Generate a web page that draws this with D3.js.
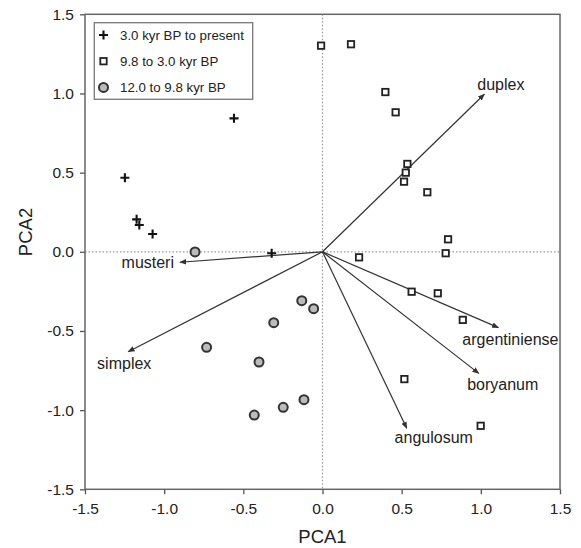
<!DOCTYPE html>
<html lang="en">
<head>
<meta charset="utf-8">
<title>PCA biplot</title>
<script src="https://cdn.jsdelivr.net/npm/d3@7"></script>
<style>
  body { margin: 0; background: #fff; }
  text { font-family: "Liberation Sans", Arial, sans-serif; fill: #222; }
</style>
</head>
<body>
<script>
// samples, by age group: [PCA1, PCA2]
var recent = [[-1.248, 0.468], [-1.174, 0.205], [-1.157, 0.169], [-1.073, 0.112],
              [-0.559, 0.843], [-0.321, -0.009]];
var middle = [[-0.009, 1.302], [0.180, 1.311], [0.397, 1.009], [0.462, 0.881],
              [0.536, 0.555], [0.526, 0.500], [0.515, 0.443], [0.662, 0.376],
              [0.793, 0.079], [0.778, -0.009], [0.231, -0.035], [0.563, -0.252],
              [0.728, -0.262], [0.886, -0.430], [0.517, -0.804], [0.999, -1.099]];
var early = [[-0.805, -0.001], [-0.131, -0.309], [-0.056, -0.359], [-0.308, -0.448],
             [-0.732, -0.603], [-0.401, -0.696], [-0.117, -0.934], [-0.248, -0.982],
             [-0.431, -1.031]];

// variable loadings
var varNames = ["duplex", "argentiniense", "boryanum", "angulosum", "musteri", "simplex"];
var varX = [1.022, 1.111, 0.987, 0.532, -0.900, -1.227];
var varY = [0.995, -0.479, -0.768, -1.115, -0.066, -0.631];

var legendLabels = ["3.0 kyr BP to present", "9.8 to 3.0 kyr BP", "12.0 to 9.8 kyr BP"];
var tickVals = [-1.5, -1.0, -0.5, 0.0, 0.5, 1.0, 1.5];

var W = 581, H = 548;
var pLeft = 85, pRight = 560, pTop = 14.3, pBottom = 489.3;

var x = d3.scaleLinear().domain([-1.5, 1.5]).range([pLeft, pRight]);
var y = d3.scaleLinear().domain([-1.5, 1.5]).range([pBottom, pTop]);

var svg = d3.select("body").append("svg")
    .attr("width", W).attr("height", H);

svg.append("defs").append("marker")
    .attr("id", "head")
    .attr("viewBox", "0 0 10 10")
    .attr("refX", 9).attr("refY", 5)
    .attr("markerWidth", 7).attr("markerHeight", 7)
    .attr("markerUnits", "userSpaceOnUse")
    .attr("orient", "auto")
  .append("path")
    .attr("d", "M0,1 L10,5 L0,9 z")
    .attr("fill", "#333");

// zero reference lines
svg.append("line")
    .attr("x1", x(0)).attr("x2", x(0)).attr("y1", pTop).attr("y2", pBottom)
    .attr("stroke", "#999").attr("stroke-width", 1.2).attr("stroke-dasharray", "1.5,2");
svg.append("line")
    .attr("x1", pLeft).attr("x2", pRight).attr("y1", y(0)).attr("y2", y(0))
    .attr("stroke", "#999").attr("stroke-width", 1.2).attr("stroke-dasharray", "1.5,2");

// axes
var fmt = function(d) { return d.toFixed(1); };
var xAxis = d3.axisBottom(x).tickValues(tickVals).tickFormat(fmt).tickSize(5).tickSizeOuter(0);
var yAxis = d3.axisLeft(y).tickValues(tickVals).tickFormat(fmt).tickSize(5).tickSizeOuter(0);

var gx = svg.append("g").attr("transform", "translate(0," + pBottom + ")").call(xAxis);
var gy = svg.append("g").attr("transform", "translate(" + pLeft + ",0)").call(yAxis);
[gx, gy].forEach(function(g) {
  g.select(".domain").remove();
  g.selectAll("line").attr("stroke", "#555").attr("stroke-width", 1.3);
  g.selectAll("text").attr("font-size", 15.5)
    .attr("font-family", "Liberation Sans, Arial, sans-serif").attr("fill", "#222");
});
gx.selectAll("text").attr("dy", "1.05em");
gy.selectAll("text").attr("x", -11);

// frame
svg.append("rect")
    .attr("x", pLeft).attr("y", pTop)
    .attr("width", pRight - pLeft).attr("height", pBottom - pTop)
    .attr("fill", "none").attr("stroke", "#666").attr("stroke-width", 1.5);

svg.append("text").attr("x", x(0)).attr("y", 543)
    .attr("text-anchor", "middle").attr("font-size", 18.5).text("PCA1");
svg.append("text")
    .attr("transform", "translate(32," + 232 + ") rotate(-90)")
    .attr("text-anchor", "middle").attr("font-size", 18.5).text("PCA2");

// loading arrows
var labelOffset = {
  duplex: [-7, -4, "start"],
  argentiniense: [12, 17, "middle"],
  boryanum: [24, 17, "middle"],
  angulosum: [27, 15, "middle"],
  musteri: [-6, 6, "end"],
  simplex: [-4, 17, "middle"]
};
varNames.forEach(function(n, i) {
  svg.append("line")
      .attr("x1", x(0)).attr("y1", y(0))
      .attr("x2", x(varX[i])).attr("y2", y(varY[i]))
      .attr("stroke", "#333").attr("stroke-width", 1.2)
      .attr("marker-end", "url(#head)");
  var o = labelOffset[n];
  svg.append("text")
      .attr("x", x(varX[i]) + o[0]).attr("y", y(varY[i]) + o[1])
      .attr("text-anchor", o[2]).attr("font-size", 16).text(n);
});

// symbols
function cross(g, cx, cy) {
  g.append("path")
    .attr("d", "M" + (cx - 4.5) + "," + cy + "h9M" + cx + "," + (cy - 4.5) + "v9")
    .attr("stroke", "#111").attr("stroke-width", 2.1);
}
function square(g, cx, cy) {
  g.append("rect").attr("x", cx - 3.2).attr("y", cy - 3.2).attr("width", 6.4).attr("height", 6.4)
    .attr("fill", "#fff").attr("stroke", "#222").attr("stroke-width", 1.8);
}
function circle(g, cx, cy) {
  g.append("circle").attr("cx", cx).attr("cy", cy).attr("r", 4.5)
    .attr("fill", "#bbb").attr("stroke", "#333").attr("stroke-width", 2);
}

var pts = svg.append("g");
middle.forEach(function(d) { square(pts, x(d[0]), y(d[1])); });
early.forEach(function(d) { circle(pts, x(d[0]), y(d[1])); });
recent.forEach(function(d) { cross(pts, x(d[0]), y(d[1])); });

// legend
var lg = svg.append("g");
lg.append("rect").attr("x", 94.3).attr("y", 22.7).attr("width", 158.4).attr("height", 76.6)
    .attr("fill", "#fff").attr("stroke", "#777").attr("stroke-width", 1.3);
var drawers = [cross, square, circle];
legendLabels.forEach(function(t, i) {
  var cy = 35 + i * 26.2;
  drawers[i](lg, 103.5, cy);
  lg.append("text").attr("x", 120).attr("y", cy + 4.7).attr("font-size", 13.3).text(t);
});
</script>
</body>
</html>
